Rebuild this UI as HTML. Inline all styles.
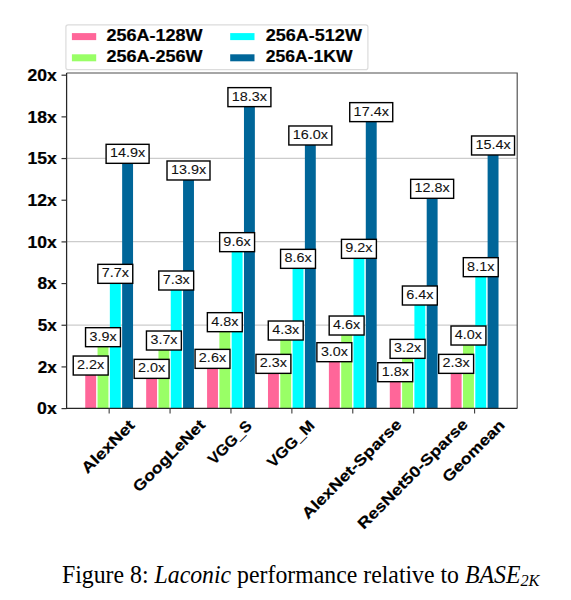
<!DOCTYPE html>
<html><head><meta charset="utf-8"><style>
html,body{margin:0;padding:0;background:#fff;width:571px;height:600px;overflow:hidden}
svg{display:block;font-family:"Liberation Sans",sans-serif}
text[font-weight=bold]{stroke:#000;stroke-width:0.2px}
</style></head><body>
<svg width="571" height="600" viewBox="0 0 571 600">
<rect x="0" y="0" width="571" height="600" fill="#fff"/>
<rect x="65.9" y="24.8" width="302.0" height="44.8" rx="2.2" ry="2.2" fill="#fff" stroke="#dcdcdc" stroke-width="1.2"/>
<rect x="71.9" y="33.1" width="24.3" height="7" fill="#ff6699"/>
<text x="106.48" y="40.80" font-size="15.80" textLength="96.12" lengthAdjust="spacingAndGlyphs" font-weight="bold" >256A-128W</text>
<rect x="71.9" y="54.3" width="24.3" height="7" fill="#99ff66"/>
<text x="106.48" y="62.20" font-size="15.80" textLength="96.12" lengthAdjust="spacingAndGlyphs" font-weight="bold" >256A-256W</text>
<rect x="230.2" y="33.1" width="24.3" height="7" fill="#00ffff"/>
<text x="265.78" y="40.80" font-size="15.80" textLength="96.12" lengthAdjust="spacingAndGlyphs" font-weight="bold" >256A-512W</text>
<rect x="230.2" y="54.3" width="24.3" height="7" fill="#006699"/>
<text x="265.79" y="62.20" font-size="15.80" textLength="86.80" lengthAdjust="spacingAndGlyphs" font-weight="bold" >256A-1KW</text>
<line x1="66.6" x2="517.2" y1="325.05" y2="325.05" stroke="#cccccc" stroke-width="1.2"/>
<line x1="66.6" x2="517.2" y1="241.70" y2="241.70" stroke="#cccccc" stroke-width="1.2"/>
<line x1="66.6" x2="517.2" y1="158.35" y2="158.35" stroke="#cccccc" stroke-width="1.2"/>
<rect x="85.25" y="371.73" width="10.90" height="36.67" fill="#ff6699"/>
<rect x="97.55" y="343.39" width="10.90" height="65.01" fill="#99ff66"/>
<rect x="109.85" y="280.04" width="10.90" height="128.36" fill="#00ffff"/>
<rect x="122.15" y="160.02" width="10.90" height="248.38" fill="#006699"/>
<rect x="146.16" y="375.06" width="10.90" height="33.34" fill="#ff6699"/>
<rect x="158.46" y="346.72" width="10.90" height="61.68" fill="#99ff66"/>
<rect x="170.76" y="286.71" width="10.90" height="121.69" fill="#00ffff"/>
<rect x="183.06" y="176.69" width="10.90" height="231.71" fill="#006699"/>
<rect x="207.07" y="365.06" width="10.90" height="43.34" fill="#ff6699"/>
<rect x="219.37" y="328.38" width="10.90" height="80.02" fill="#99ff66"/>
<rect x="231.67" y="248.37" width="10.90" height="160.03" fill="#00ffff"/>
<rect x="243.97" y="103.34" width="10.90" height="305.06" fill="#006699"/>
<rect x="267.98" y="370.06" width="10.90" height="38.34" fill="#ff6699"/>
<rect x="280.28" y="336.72" width="10.90" height="71.68" fill="#99ff66"/>
<rect x="292.58" y="265.04" width="10.90" height="143.36" fill="#00ffff"/>
<rect x="304.88" y="141.68" width="10.90" height="266.72" fill="#006699"/>
<rect x="328.89" y="358.39" width="10.90" height="50.01" fill="#ff6699"/>
<rect x="341.19" y="331.72" width="10.90" height="76.68" fill="#99ff66"/>
<rect x="353.49" y="255.04" width="10.90" height="153.36" fill="#00ffff"/>
<rect x="365.79" y="118.34" width="10.90" height="290.06" fill="#006699"/>
<rect x="389.80" y="378.39" width="10.90" height="30.01" fill="#ff6699"/>
<rect x="402.10" y="355.06" width="10.90" height="53.34" fill="#99ff66"/>
<rect x="414.40" y="301.71" width="10.90" height="106.69" fill="#00ffff"/>
<rect x="426.70" y="195.02" width="10.90" height="213.38" fill="#006699"/>
<rect x="450.71" y="370.06" width="10.90" height="38.34" fill="#ff6699"/>
<rect x="463.01" y="341.72" width="10.90" height="66.68" fill="#99ff66"/>
<rect x="475.31" y="273.37" width="10.90" height="135.03" fill="#00ffff"/>
<rect x="487.61" y="151.68" width="10.90" height="256.72" fill="#006699"/>
<path d="M66.6 73.0 H517.2 V408.4" fill="none" stroke="#4e4e4e" stroke-width="1.15"/>
<path d="M66.6 73.0 V408.4 H517.2" fill="none" stroke="#262626" stroke-width="1.25"/>
<line x1="61.5" x2="66.6" y1="408.60" y2="408.60" stroke="#333" stroke-width="1.2"/>
<text x="37.12" y="414.40" font-size="15.70" textLength="19.61" lengthAdjust="spacingAndGlyphs" font-weight="bold" >0x</text>
<line x1="61.5" x2="66.6" y1="366.92" y2="366.92" stroke="#333" stroke-width="1.2"/>
<text x="37.68" y="372.72" font-size="15.70" textLength="19.04" lengthAdjust="spacingAndGlyphs" font-weight="bold" >2x</text>
<line x1="61.5" x2="66.6" y1="325.25" y2="325.25" stroke="#333" stroke-width="1.2"/>
<text x="37.72" y="331.05" font-size="15.70" textLength="19.00" lengthAdjust="spacingAndGlyphs" font-weight="bold" >5x</text>
<line x1="61.5" x2="66.6" y1="283.57" y2="283.57" stroke="#333" stroke-width="1.2"/>
<text x="37.46" y="289.38" font-size="15.70" textLength="19.27" lengthAdjust="spacingAndGlyphs" font-weight="bold" >8x</text>
<line x1="61.5" x2="66.6" y1="241.90" y2="241.90" stroke="#333" stroke-width="1.2"/>
<text x="27.44" y="247.70" font-size="15.70" textLength="29.29" lengthAdjust="spacingAndGlyphs" font-weight="bold" >10x</text>
<line x1="61.5" x2="66.6" y1="200.22" y2="200.22" stroke="#333" stroke-width="1.2"/>
<text x="27.44" y="206.02" font-size="15.70" textLength="29.29" lengthAdjust="spacingAndGlyphs" font-weight="bold" >12x</text>
<line x1="61.5" x2="66.6" y1="158.55" y2="158.55" stroke="#333" stroke-width="1.2"/>
<text x="27.44" y="164.35" font-size="15.70" textLength="29.29" lengthAdjust="spacingAndGlyphs" font-weight="bold" >15x</text>
<line x1="61.5" x2="66.6" y1="116.87" y2="116.87" stroke="#333" stroke-width="1.2"/>
<text x="27.44" y="122.67" font-size="15.70" textLength="29.29" lengthAdjust="spacingAndGlyphs" font-weight="bold" >18x</text>
<line x1="61.5" x2="66.6" y1="75.20" y2="75.20" stroke="#333" stroke-width="1.2"/>
<text x="27.44" y="81.00" font-size="15.70" textLength="29.29" lengthAdjust="spacingAndGlyphs" font-weight="bold" >20x</text>
<line x1="109.15" x2="109.15" y1="408.4" y2="413.4" stroke="#333" stroke-width="1.05"/>
<line x1="170.06" x2="170.06" y1="408.4" y2="413.4" stroke="#333" stroke-width="1.05"/>
<line x1="230.97" x2="230.97" y1="408.4" y2="413.4" stroke="#333" stroke-width="1.05"/>
<line x1="291.88" x2="291.88" y1="408.4" y2="413.4" stroke="#333" stroke-width="1.05"/>
<line x1="352.79" x2="352.79" y1="408.4" y2="413.4" stroke="#333" stroke-width="1.05"/>
<line x1="413.70" x2="413.70" y1="408.4" y2="413.4" stroke="#333" stroke-width="1.05"/>
<line x1="474.61" x2="474.61" y1="408.4" y2="413.4" stroke="#333" stroke-width="1.05"/>
<text transform="translate(88.71 473.13) rotate(-45)" x="-1.71" y="0" font-size="15.2" font-weight="bold" textLength="68.08" lengthAdjust="spacingAndGlyphs">AlexNet</text>
<text transform="translate(140.33 491.69) rotate(-45)" x="-1.83" y="0" font-size="15.2" font-weight="bold" textLength="94.98" lengthAdjust="spacingAndGlyphs">GoogLeNet</text>
<text transform="translate(214.67 464.84) rotate(-45)" x="-1.10" y="0" font-size="15.2" font-weight="bold" textLength="55.17" lengthAdjust="spacingAndGlyphs">VGG_S</text>
<text transform="translate(274.15 467.70) rotate(-45)" x="-1.18" y="0" font-size="15.2" font-weight="bold" textLength="59.56" lengthAdjust="spacingAndGlyphs">VGG_M</text>
<text transform="translate(310.04 517.74) rotate(-45)" x="-2.98" y="0" font-size="15.2" font-weight="bold" textLength="133.76" lengthAdjust="spacingAndGlyphs">AlexNet-Sparse</text>
<text transform="translate(365.78 528.09) rotate(-45)" x="-2.73" y="0" font-size="15.2" font-weight="bold" textLength="148.41" lengthAdjust="spacingAndGlyphs">ResNet50-Sparse</text>
<text transform="translate(449.70 482.06) rotate(-45)" x="-1.55" y="0" font-size="15.2" font-weight="bold" textLength="80.85" lengthAdjust="spacingAndGlyphs">Geomean</text>
<rect x="73.24" y="356.03" width="34.91" height="19.00" fill="#fff" stroke="#000" stroke-width="1.4"/>
<text x="77.05" y="369.13" font-size="13.20" textLength="27.25" lengthAdjust="spacingAndGlyphs" fill="#111" stroke="#111" stroke-width="0.08">2.2x</text>
<rect x="85.54" y="327.69" width="34.91" height="19.00" fill="#fff" stroke="#000" stroke-width="1.4"/>
<text x="89.57" y="340.79" font-size="13.20" textLength="27.03" lengthAdjust="spacingAndGlyphs" fill="#111" stroke="#111" stroke-width="0.08">3.9x</text>
<rect x="97.84" y="264.34" width="34.91" height="19.00" fill="#fff" stroke="#000" stroke-width="1.4"/>
<text x="101.75" y="277.44" font-size="13.20" textLength="27.15" lengthAdjust="spacingAndGlyphs" fill="#111" stroke="#111" stroke-width="0.08">7.7x</text>
<rect x="106.10" y="144.32" width="42.99" height="19.00" fill="#fff" stroke="#000" stroke-width="1.4"/>
<text x="110.00" y="157.42" font-size="13.20" textLength="35.23" lengthAdjust="spacingAndGlyphs" fill="#111" stroke="#111" stroke-width="0.08">14.9x</text>
<rect x="134.15" y="359.36" width="34.91" height="19.00" fill="#fff" stroke="#000" stroke-width="1.4"/>
<text x="137.96" y="372.46" font-size="13.20" textLength="27.25" lengthAdjust="spacingAndGlyphs" fill="#111" stroke="#111" stroke-width="0.08">2.0x</text>
<rect x="146.45" y="331.02" width="34.91" height="19.00" fill="#fff" stroke="#000" stroke-width="1.4"/>
<text x="150.48" y="344.12" font-size="13.20" textLength="27.03" lengthAdjust="spacingAndGlyphs" fill="#111" stroke="#111" stroke-width="0.08">3.7x</text>
<rect x="158.75" y="271.01" width="34.91" height="19.00" fill="#fff" stroke="#000" stroke-width="1.4"/>
<text x="162.66" y="284.11" font-size="13.20" textLength="27.15" lengthAdjust="spacingAndGlyphs" fill="#111" stroke="#111" stroke-width="0.08">7.3x</text>
<rect x="167.01" y="160.99" width="42.99" height="19.00" fill="#fff" stroke="#000" stroke-width="1.4"/>
<text x="170.91" y="174.09" font-size="13.20" textLength="35.23" lengthAdjust="spacingAndGlyphs" fill="#111" stroke="#111" stroke-width="0.08">13.9x</text>
<rect x="195.06" y="349.36" width="34.91" height="19.00" fill="#fff" stroke="#000" stroke-width="1.4"/>
<text x="198.87" y="362.46" font-size="13.20" textLength="27.25" lengthAdjust="spacingAndGlyphs" fill="#111" stroke="#111" stroke-width="0.08">2.6x</text>
<rect x="207.36" y="312.68" width="34.91" height="19.00" fill="#fff" stroke="#000" stroke-width="1.4"/>
<text x="211.25" y="325.78" font-size="13.20" textLength="27.16" lengthAdjust="spacingAndGlyphs" fill="#111" stroke="#111" stroke-width="0.08">4.8x</text>
<rect x="219.66" y="232.67" width="34.91" height="19.00" fill="#fff" stroke="#000" stroke-width="1.4"/>
<text x="223.39" y="245.77" font-size="13.20" textLength="27.33" lengthAdjust="spacingAndGlyphs" fill="#111" stroke="#111" stroke-width="0.08">9.6x</text>
<rect x="227.92" y="87.64" width="42.99" height="19.00" fill="#fff" stroke="#000" stroke-width="1.4"/>
<text x="231.82" y="100.74" font-size="13.20" textLength="35.23" lengthAdjust="spacingAndGlyphs" fill="#111" stroke="#111" stroke-width="0.08">18.3x</text>
<rect x="255.97" y="354.36" width="34.91" height="19.00" fill="#fff" stroke="#000" stroke-width="1.4"/>
<text x="259.78" y="367.46" font-size="13.20" textLength="27.25" lengthAdjust="spacingAndGlyphs" fill="#111" stroke="#111" stroke-width="0.08">2.3x</text>
<rect x="268.27" y="321.02" width="34.91" height="19.00" fill="#fff" stroke="#000" stroke-width="1.4"/>
<text x="272.16" y="334.12" font-size="13.20" textLength="27.16" lengthAdjust="spacingAndGlyphs" fill="#111" stroke="#111" stroke-width="0.08">4.3x</text>
<rect x="280.57" y="249.34" width="34.91" height="19.00" fill="#fff" stroke="#000" stroke-width="1.4"/>
<text x="284.41" y="262.44" font-size="13.20" textLength="27.22" lengthAdjust="spacingAndGlyphs" fill="#111" stroke="#111" stroke-width="0.08">8.6x</text>
<rect x="288.83" y="125.98" width="42.99" height="19.00" fill="#fff" stroke="#000" stroke-width="1.4"/>
<text x="292.73" y="139.08" font-size="13.20" textLength="35.23" lengthAdjust="spacingAndGlyphs" fill="#111" stroke="#111" stroke-width="0.08">16.0x</text>
<rect x="316.88" y="342.69" width="34.91" height="19.00" fill="#fff" stroke="#000" stroke-width="1.4"/>
<text x="320.91" y="355.79" font-size="13.20" textLength="27.03" lengthAdjust="spacingAndGlyphs" fill="#111" stroke="#111" stroke-width="0.08">3.0x</text>
<rect x="329.18" y="316.02" width="34.91" height="19.00" fill="#fff" stroke="#000" stroke-width="1.4"/>
<text x="333.07" y="329.12" font-size="13.20" textLength="27.16" lengthAdjust="spacingAndGlyphs" fill="#111" stroke="#111" stroke-width="0.08">4.6x</text>
<rect x="341.48" y="239.34" width="34.91" height="19.00" fill="#fff" stroke="#000" stroke-width="1.4"/>
<text x="345.21" y="252.44" font-size="13.20" textLength="27.33" lengthAdjust="spacingAndGlyphs" fill="#111" stroke="#111" stroke-width="0.08">9.2x</text>
<rect x="349.74" y="102.64" width="42.99" height="19.00" fill="#fff" stroke="#000" stroke-width="1.4"/>
<text x="353.64" y="115.74" font-size="13.20" textLength="35.23" lengthAdjust="spacingAndGlyphs" fill="#111" stroke="#111" stroke-width="0.08">17.4x</text>
<rect x="377.79" y="362.69" width="34.91" height="19.00" fill="#fff" stroke="#000" stroke-width="1.4"/>
<text x="381.69" y="375.79" font-size="13.20" textLength="27.15" lengthAdjust="spacingAndGlyphs" fill="#111" stroke="#111" stroke-width="0.08">1.8x</text>
<rect x="390.09" y="339.36" width="34.91" height="19.00" fill="#fff" stroke="#000" stroke-width="1.4"/>
<text x="394.12" y="352.46" font-size="13.20" textLength="27.03" lengthAdjust="spacingAndGlyphs" fill="#111" stroke="#111" stroke-width="0.08">3.2x</text>
<rect x="402.39" y="286.01" width="34.91" height="19.00" fill="#fff" stroke="#000" stroke-width="1.4"/>
<text x="406.15" y="299.11" font-size="13.20" textLength="27.30" lengthAdjust="spacingAndGlyphs" fill="#111" stroke="#111" stroke-width="0.08">6.4x</text>
<rect x="410.65" y="179.32" width="42.99" height="19.00" fill="#fff" stroke="#000" stroke-width="1.4"/>
<text x="414.55" y="192.42" font-size="13.20" textLength="35.23" lengthAdjust="spacingAndGlyphs" fill="#111" stroke="#111" stroke-width="0.08">12.8x</text>
<rect x="438.70" y="354.36" width="34.91" height="19.00" fill="#fff" stroke="#000" stroke-width="1.4"/>
<text x="442.51" y="367.46" font-size="13.20" textLength="27.25" lengthAdjust="spacingAndGlyphs" fill="#111" stroke="#111" stroke-width="0.08">2.3x</text>
<rect x="451.00" y="326.02" width="34.91" height="19.00" fill="#fff" stroke="#000" stroke-width="1.4"/>
<text x="454.89" y="339.12" font-size="13.20" textLength="27.16" lengthAdjust="spacingAndGlyphs" fill="#111" stroke="#111" stroke-width="0.08">4.0x</text>
<rect x="463.30" y="257.67" width="34.91" height="19.00" fill="#fff" stroke="#000" stroke-width="1.4"/>
<text x="467.14" y="270.77" font-size="13.20" textLength="27.22" lengthAdjust="spacingAndGlyphs" fill="#111" stroke="#111" stroke-width="0.08">8.1x</text>
<rect x="471.56" y="135.98" width="42.99" height="19.00" fill="#fff" stroke="#000" stroke-width="1.4"/>
<text x="475.46" y="149.08" font-size="13.20" textLength="35.23" lengthAdjust="spacingAndGlyphs" fill="#111" stroke="#111" stroke-width="0.08">15.4x</text>
<g transform="translate(0 582.8) scale(1 1.05) translate(0 -582.8)"><text x="62.0" y="582.8" font-family="Liberation Serif" font-size="23.8" fill="#000">Figure 8: <tspan font-style="italic">Laconic</tspan> performance relative to <tspan font-style="italic">BASE</tspan><tspan font-style="italic" font-size="16.3" dy="3.3">2K</tspan></text></g>
</svg>
</body></html>
